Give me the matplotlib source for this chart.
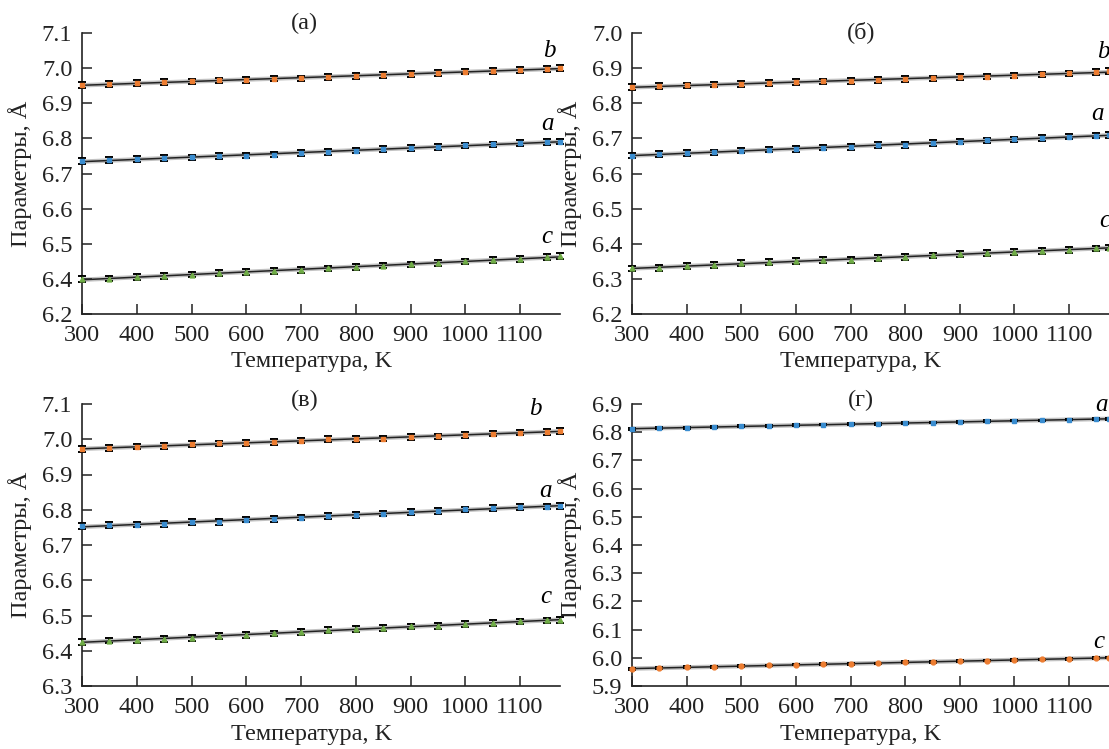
import numpy as np
import matplotlib
matplotlib.use("Agg")
import matplotlib.pyplot as plt

plt.rcParams['font.family'] = ['Liberation Serif', 'DejaVu Serif']

# температура, K
T = [300, 350, 400, 450, 500, 550, 600, 650, 700, 750, 800, 850, 900, 950,
     1000, 1050, 1100, 1150, 1173]

# (а)
a1_b = [6.952, 6.955, 6.957, 6.960, 6.962, 6.965, 6.967, 6.970, 6.971, 6.974,
        6.977, 6.980, 6.983, 6.987, 6.990, 6.992, 6.995, 6.998, 7.000]
a1_a = [6.735, 6.739, 6.741, 6.744, 6.746, 6.750, 6.751, 6.754, 6.758, 6.762,
        6.765, 6.770, 6.773, 6.776, 6.780, 6.783, 6.786, 6.789, 6.791]
a1_c = [6.400, 6.401, 6.405, 6.409, 6.412, 6.417, 6.420, 6.422, 6.425, 6.430,
        6.434, 6.438, 6.441, 6.446, 6.450, 6.453, 6.457, 6.462, 6.465]

# (б)
a2_b = [6.847, 6.849, 6.851, 6.853, 6.855, 6.858, 6.860, 6.862, 6.864, 6.867,
        6.869, 6.871, 6.874, 6.876, 6.879, 6.882, 6.885, 6.889, 6.892]
a2_a = [6.651, 6.656, 6.658, 6.660, 6.665, 6.668, 6.670, 6.674, 6.676, 6.681,
        6.682, 6.686, 6.691, 6.694, 6.697, 6.701, 6.705, 6.708, 6.709]
a2_c = [6.330, 6.331, 6.336, 6.340, 6.345, 6.348, 6.351, 6.353, 6.354, 6.359,
        6.363, 6.367, 6.371, 6.374, 6.376, 6.379, 6.383, 6.387, 6.389]

# (в)
a3_b = [6.972, 6.975, 6.979, 6.981, 6.986, 6.988, 6.990, 6.992, 6.996, 7.000,
        7.000, 7.002, 7.007, 7.008, 7.012, 7.016, 7.019, 7.021, 7.023]
a3_a = [6.754, 6.757, 6.758, 6.760, 6.765, 6.766, 6.772, 6.774, 6.778, 6.782,
        6.786, 6.789, 6.793, 6.797, 6.801, 6.805, 6.808, 6.809, 6.810]
a3_c = [6.425, 6.429, 6.431, 6.433, 6.437, 6.442, 6.445, 6.449, 6.454, 6.459,
        6.462, 6.465, 6.469, 6.471, 6.475, 6.479, 6.483, 6.486, 6.488]

# (г)
a4_a = [6.811, 6.816, 6.816, 6.819, 6.821, 6.822, 6.825, 6.827, 6.829, 6.829,
        6.832, 6.834, 6.835, 6.839, 6.841, 6.842, 6.845, 6.847, 6.848]
a4_c = [5.961, 5.963, 5.967, 5.968, 5.972, 5.973, 5.976, 5.977, 5.978, 5.980,
        5.984, 5.985, 5.989, 5.990, 5.993, 5.994, 5.996, 5.999, 6.001]

# погрешности
err_big = 0.008
err_small = 0.003

orange = '#ED7D31'
blue = '#3A8DD0'
green = '#70AD47'

fig = plt.figure(figsize=(11.09, 7.49), dpi=100)

# положения осей в пикселях (left, right, top, bottom)
boxes = [(82, 560, 33, 314), (632, 1109, 33, 314),
         (82, 560, 404, 686), (632, 1109, 404, 686)]

panels = [
    dict(title='(а)', ylim=(6.3, 7.1), ticks=[6.3, 6.4, 6.5, 6.6, 6.7, 6.8, 6.9, 7.0, 7.1],
         labels=['6.2', '6.4', '6.5', '6.6', '6.7', '6.8', '6.9', '7.0', '7.1'],
         tx=0.465, tdy=10,
         series=[(a1_b, orange, 's', 'b', err_big, (-11, 17)),
                 (a1_a, blue, 's', 'a', err_big, (-13, 18)),
                 (a1_c, green, '^', 'c', err_big, (-13, 19))]),
    dict(title='(б)', ylim=(6.2, 7.0), ticks=None, labels=None, tx=0.48, tdy=1,
         series=[(a2_b, orange, 's', 'b', err_big, (-6, 19)),
                 (a2_a, blue, 's', 'a', err_big, (-12, 21)),
                 (a2_c, green, '^', 'c', err_big, (-4, 27))]),
    dict(title='(в)', ylim=(6.3, 7.1), ticks=None, labels=None, tx=0.465, tdy=4,
         series=[(a3_b, orange, 's', 'b', err_big, (-25, 22)),
                 (a3_a, blue, 's', 'a', err_big, (-14, 15)),
                 (a3_c, green, '^', 'c', err_big, (-14, 23))]),
    dict(title='(г)', ylim=(5.9, 6.9), ticks=None, labels=None, tx=0.48, tdy=4,
         series=[(a4_a, blue, 's', 'a', err_small, (-8, 14)),
                 (a4_c, orange, 'o', 'c', err_small, (-10, 16))]),
]

W, H = 1109, 749
for (l, r, t, b), p in zip(boxes, panels):
    ax = fig.add_axes([l / W, 1 - b / H, (r - l) / W, (b - t) / H])
    for y, col, mk, name, err, off in p['series']:
        k, c0 = np.polyfit(T, y, 1)
        xx = np.array([300, 1173])
        ax.plot(xx, k * xx + c0, color='#9a9a9a', lw=3.2, alpha=0.6, zorder=1)
        ax.plot(xx, k * xx + c0, color='#222222', lw=1.1, zorder=2)
        ax.errorbar(T, y, yerr=err, fmt='none', ecolor='black', elinewidth=1.3,
                    capsize=3.2, capthick=1.4, zorder=3, clip_on=False)
        ax.plot(T, y, ls='none', marker=mk, ms=3.5, color=col, mec=col,
                zorder=4, clip_on=False)
        ax.annotate(name, xy=(T[-1], y[-1]), xytext=(off[0] * 0.72, off[1] * 0.72),
                    textcoords='offset points', ha='center', va='center',
                    fontsize=18, style='italic', annotation_clip=False)
    ax.set_xlim(300, 1173)
    ax.set_ylim(*p['ylim'])
    ax.set_xticks(range(300, 1101, 100))
    if p['ticks'] is not None:
        ax.set_yticks(p['ticks'])
        ax.set_yticklabels(p['labels'])
    else:
        lo, hi = p['ylim']
        tk = np.round(np.arange(lo, hi + 0.001, 0.1), 1)
        ax.set_yticks(tk)
        ax.set_yticklabels([f'{v:.1f}' for v in tk])
    for s in ['top', 'right']:
        ax.spines[s].set_visible(False)
    for s in ['left', 'bottom']:
        ax.spines[s].set_linewidth(1.2)
        ax.spines[s].set_color('#222222')
    ax.tick_params(direction='in', length=7, width=1.1, labelsize=17.5,
                   colors='#222222', labelcolor='#222222')
    ax.tick_params(axis='x', pad=8)
    ax.tick_params(axis='y', pad=7)
    ax.set_xlabel('Температура, K', fontsize=17.5, color='#222222')
    ax.set_ylabel('Параметры, Å', fontsize=17.5, color='#222222')
    ax.xaxis.set_label_coords(0.48, -0.133)
    ax.yaxis.set_label_coords(-0.105, 0.5)
    ax.annotate(p['title'], xy=(p['tx'], 1), xycoords='axes fraction',
                xytext=(0, p['tdy'] * 0.72), textcoords='offset points',
                ha='center', va='center', fontsize=17.5, color='#222222')

fig.savefig('out.png', dpi=100)
